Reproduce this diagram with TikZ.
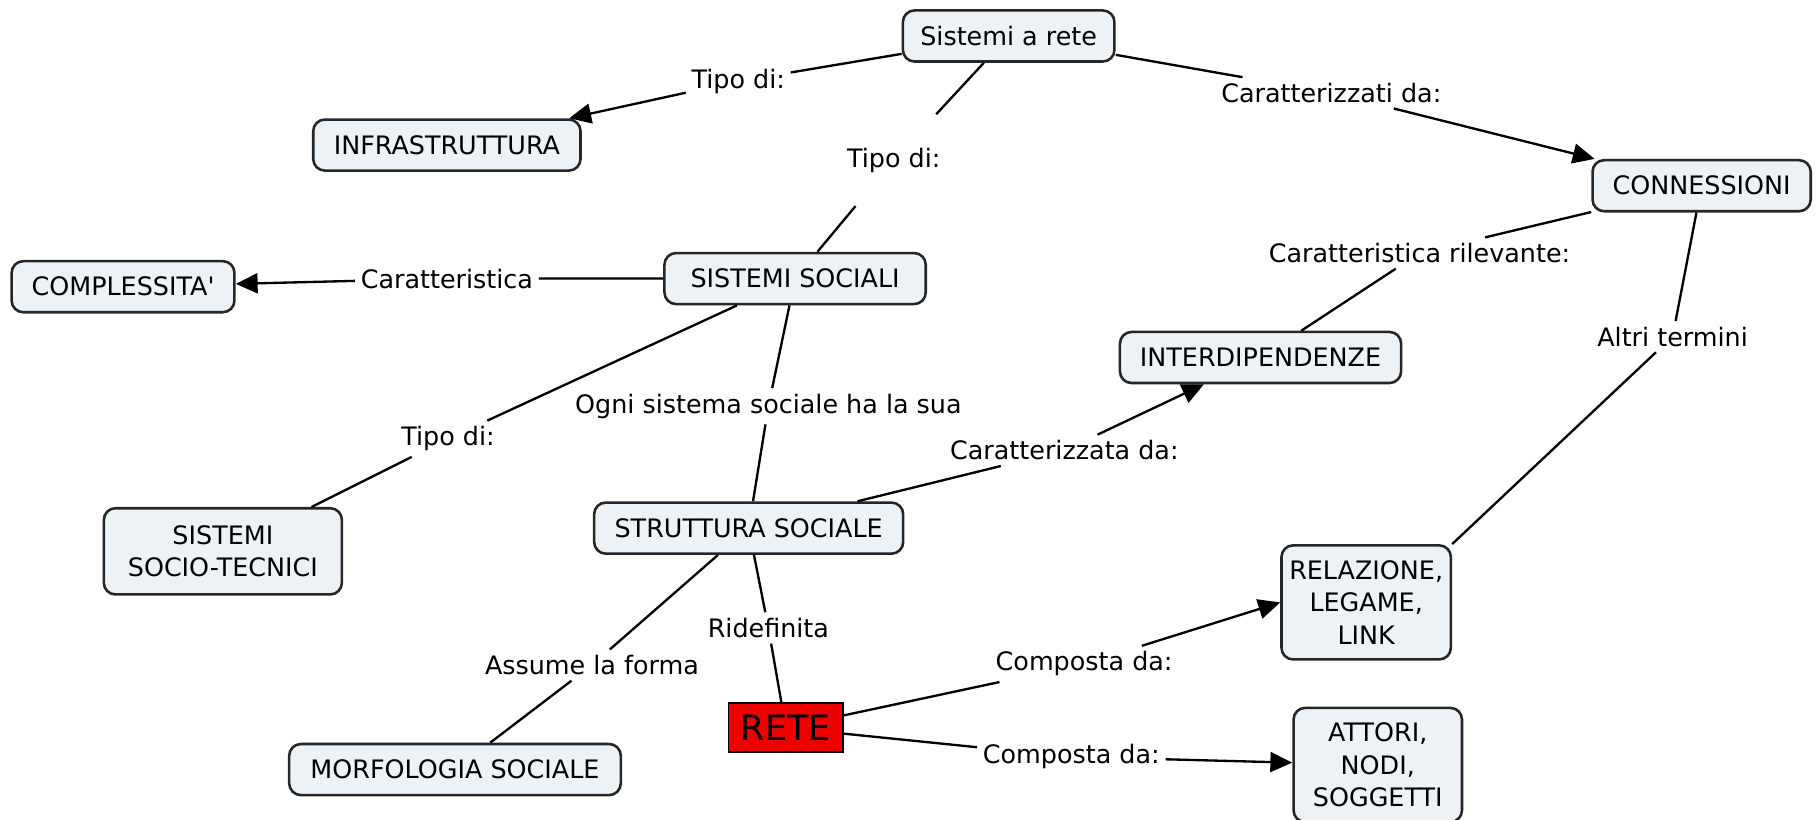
\documentclass[tikz,border=0pt]{standalone}
\usepackage{fontspec}
\setmainfont{DejaVu Sans}
\usepackage{xcolor}
\usetikzlibrary{arrows.meta}
\definecolor{boxfill}{RGB}{236,242,245}
\definecolor{retered}{RGB}{236,0,0}
\tikzset{concept/.style={draw=black!85,fill=boxfill,rounded corners=5pt,line width=1.1pt,align=center,minimum height=0.77cm,minimum width=#1},
  concept/.default=2cm,
  linkname/.style={inner sep=2pt}}

\begin{document}
\begin{tikzpicture}[x=0.0175cm,y=-0.0175cm,line width=1pt,font=\fontsize{10.9}{13.9}\selectfont,>={Triangle[length=0.33cm,width=0.3cm]}]
% \draw[help lines] (0,0) grid (1568,706);
\useasboundingbox (0,0) rectangle (1568,706);
\node (sr) [concept=3.19cm] at (869,31) {Sistemi a rete};
\node (infra) [concept=4.03cm] at (385,125) {INFRASTRUTTURA};
\node (conn) [concept=3.29cm] at (1466,160) {CONNESSIONI};
\node (compl) [concept=3.36cm] at (106,247) {COMPLESSITA\textquotesingle};
\node (socsys) [concept=3.94cm] at (685,240) {SISTEMI SOCIALI};
\node (interd) [concept=4.24cm] at (1086,308) {INTERDIPENDENZE};
\node (sst) [concept=3.59cm,minimum height=1.3cm] at (192,475) {SISTEMI\\SOCIO-TECNICI};
\node (struct) [concept=4.66cm] at (645,455) {STRUTTURA SOCIALE};
\node (rel) [concept=2.54cm,minimum height=1.72cm] at (1177,519) {RELAZIONE,\\LEGAME,\\LINK};
\node (rete) [draw=black,line width=0.8pt,fill=retered,minimum width=1.73cm,minimum height=0.735cm,inner sep=1pt,font=\fontsize{15}{18}\selectfont] at (677,627) {RETE};
\node (morf) [concept=5cm] at (392,663) {MORFOLOGIA SOCIALE};
\node (att) [concept=2.54cm,minimum height=1.72cm] at (1187,659) {ATTORI,\\NODI,\\SOGGETTI};
%
\node (tipo1) [linkname] at (636,70) {Tipo di:};
\node (tipo2) [linkname,minimum height=1.35cm] at (770,138) {Tipo di:};
\node (carzati) [linkname] at (1147,80) {Caratterizzati da:};
\node (caratt) [linkname] at (385,240) {Caratteristica};
\node (tipo3) [linkname] at (386,378) {Tipo di:};
\node (ogni) [linkname] at (662,350) {Ogni sistema sociale ha la sua};
\node (carril) [linkname] at (1223,218) {Caratteristica rilevante:};
\node (carzata) [linkname] at (917,388) {Caratterizzata da:};
\node (altri) [linkname] at (1441,290) {Altri termini};
\node (assume) [linkname] at (510,573) {Assume la forma};
\node (ridef) [linkname] at (662,541) {Ridefinita};
\node (comp1) [linkname] at (934,572) {Composta da:};
\node (comp2) [linkname] at (923,652) {Composta da:};
%
\draw[->] (sr) -- (tipo1) -- (infra);
\draw (sr) -- (tipo2) -- (socsys);
\draw[->] (sr) -- (carzati) -- (conn);
\draw[->] (socsys) -- (caratt) -- (compl);
\draw (socsys) -- (tipo3) -- (sst);
\draw (socsys) -- (ogni) -- (struct);
\draw[->] (struct) -- (carzata) -- (interd);
\draw (struct) -- (assume) -- (morf);
\draw (struct) -- (ridef) -- (rete);
\draw (conn) -- (carril) -- (interd);
\draw (conn) -- (altri) -- (rel.north east);
\draw[->] (rete) -- (comp1) -- (rel.west);
\draw[->] (rete) -- (comp2) -- (att);
\end{tikzpicture}
\end{document}
